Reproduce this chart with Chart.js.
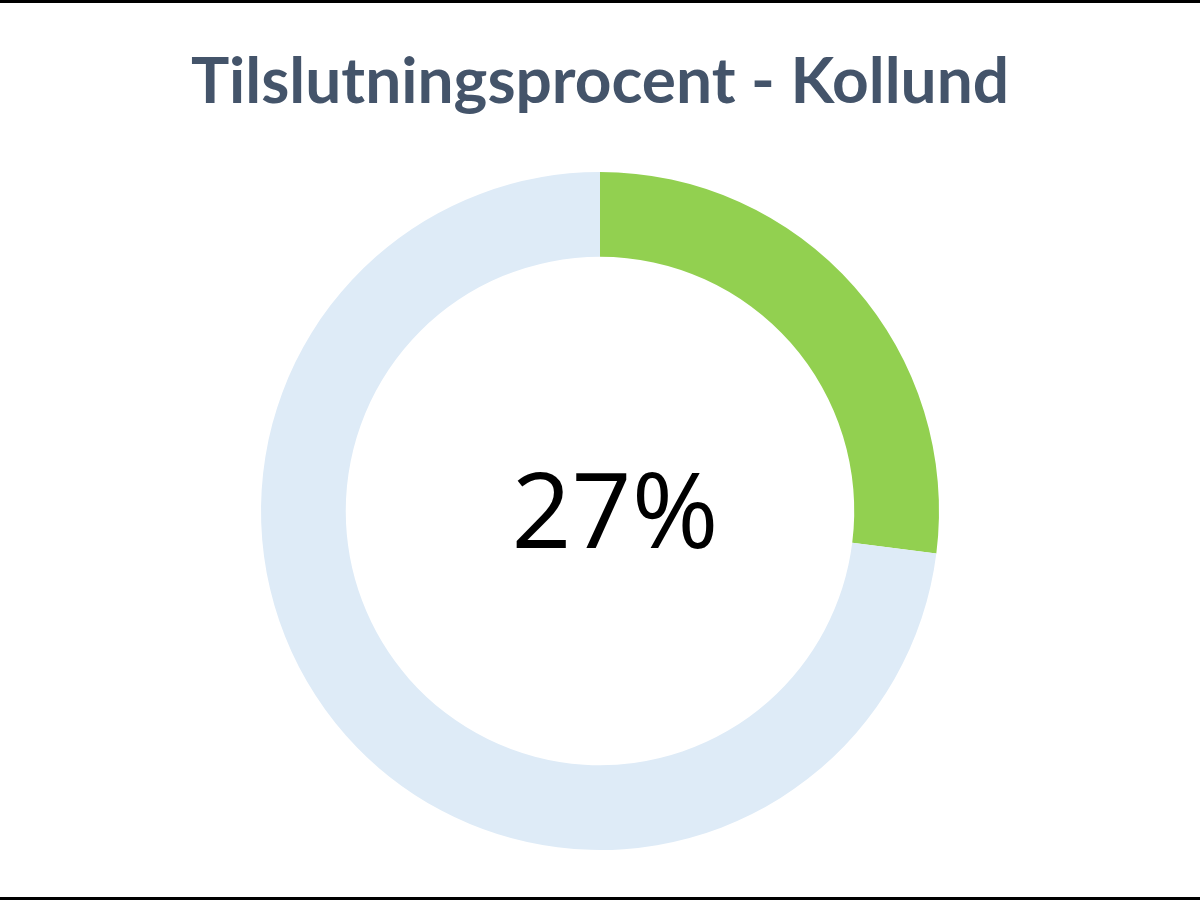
<!DOCTYPE html>
<html>
<head>
<meta charset="utf-8">
<script src="https://cdn.jsdelivr.net/npm/chart.js@4"></script>
<style>
  html, body { margin: 0; padding: 0; background: #fff; }
  #wrap { width: 1200px; height: 900px; position: relative; }
</style>
</head>
<body>
<div id="wrap"><canvas id="turnoutChart" width="1200" height="900"></canvas></div>
<script>
const labels = ['Tilsluttet', 'Ikke tilsluttet'];
const values = [27, 73];
const sliceColors = ['#92D050', '#DEEBF7'];
const centerLabel = '27%';

// black frame lines top and bottom + centre text
const decorPlugin = {
    id: 'decor',
    afterDraw(chart) {
        const ctx = chart.ctx;
        const w = chart.width, h = chart.height;
        ctx.save();
        ctx.fillStyle = '#000';
        ctx.fillRect(0, 0, w, 3);
        ctx.fillRect(0, h - 3, w, 3);

        const meta = chart.getDatasetMeta(0).data[0];
        ctx.font = '400 105px "Open Sans", sans-serif';
        ctx.textAlign = 'center';
        ctx.textBaseline = 'alphabetic';
        ctx.fillStyle = '#000';
        ctx.fillText(centerLabel, meta.x + 15, meta.y + 37);
        ctx.restore();
    }
};

new Chart(document.getElementById('turnoutChart'), {
    type: 'doughnut',
    data: {
        labels: labels,
        datasets: [{
            data: values,
            backgroundColor: sliceColors,
            borderWidth: 0,
            hoverOffset: 0
        }]
    },
    options: {
        responsive: false,
        animation: false,
        cutout: '75%',
        layout: { padding: { top: 0, bottom: 50, left: 0, right: 0 } },
        plugins: {
            legend: { display: false },
            tooltip: { enabled: false },
            title: {
                display: true,
                text: 'Tilslutningsprocent - Kollund',
                color: '#44546A',
                font: { family: 'Lato', size: 64, weight: 'bold', lineHeight: 1.2 },
                padding: { top: 44, bottom: 51.2 }
            }
        }
    },
    plugins: [decorPlugin]
});
</script>
</body>
</html>
